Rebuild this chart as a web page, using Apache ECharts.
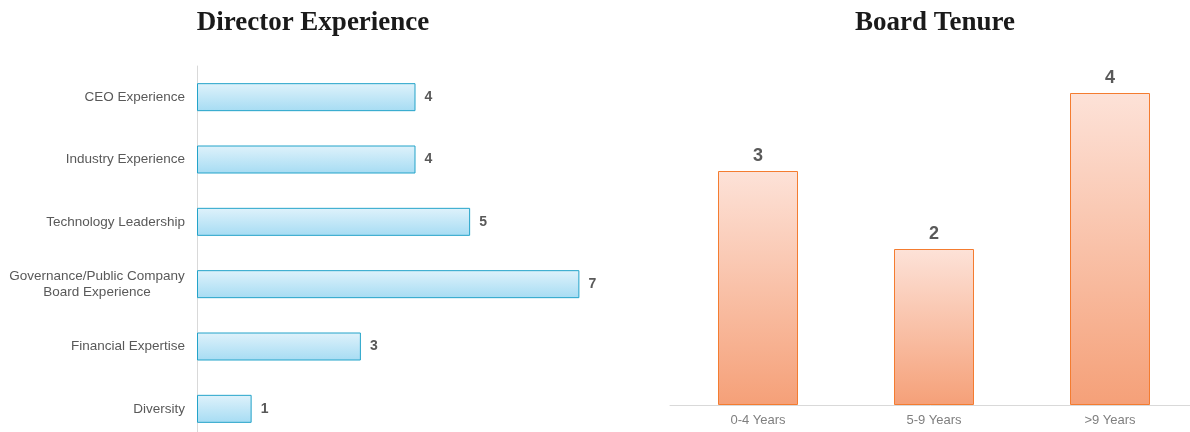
<!DOCTYPE html>
<html>
<head>
<meta charset="utf-8">
<script src="https://cdn.jsdelivr.net/npm/echarts@6/dist/echarts.min.js"></script>
<style>
  html, body { margin: 0; padding: 0; background: #fff; }
  #main { width: 1190px; height: 432px; }
</style>
</head>
<body>
<div id="main"></div>
<script>
// director experience (top to bottom)
var expCategories = ['CEO Experience', 'Industry Experience', 'Technology Leadership',
  'Governance/Public Company\nBoard Experience', 'Financial Expertise', 'Diversity'];
var expValues = [4, 4, 5, 7, 3, 1];

// board tenure
var tenureCategories = ['0-4 Years', '5-9 Years', '>9 Years'];
var tenureValues = [3, 2, 4];

var chart = echarts.init(document.getElementById('main'));

var blueFill = new echarts.graphic.LinearGradient(0, 0, 0, 1, [
  { offset: 0, color: '#dff2fb' },
  { offset: 1, color: '#a6dcf3' }
]);
var orangeFill = new echarts.graphic.LinearGradient(0, 0, 0, 1, [
  { offset: 0, color: '#fde2d8' },
  { offset: 1, color: '#f5a078' }
]);

// categories on the left axis, the two-line one kept centred like the original
var expAxisData = expCategories.map(function (c) {
  if (c.indexOf('\n') >= 0) {
    return { value: c, textStyle: { align: 'center', padding: [0, 176, 0, 0] } };
  }
  return c;
});

var titleStyle = {
  fontFamily: 'Liberation Serif', fontStyle: 'normal', fontWeight: 'bold',
  fontSize: 27, color: '#1a1a1a'
};

chart.setOption({
  animation: false,
  title: [
    { text: 'Director Experience', left: 308, top: 5, textAlign: 'center', textStyle: titleStyle },
    { text: 'Board Tenure', left: 930, top: 5, textAlign: 'center', textStyle: titleStyle }
  ],
  grid: [
    { left: 197, top: 66, width: 437, height: 374, outerBoundsMode: 'none', containLabel: false },
    { left: 670, top: 15, width: 528, height: 390, outerBoundsMode: 'none', containLabel: false }
  ],
  xAxis: [
    { gridIndex: 0, type: 'value', min: 0, max: 8, show: false },
    {
      gridIndex: 1, type: 'category', data: tenureCategories,
      axisLine: { lineStyle: { color: '#d9d9d9' } },
      axisTick: { show: false },
      axisLabel: { color: '#7f7f7f', fontSize: 13, fontFamily: 'Liberation Sans', margin: 9 }
    }
  ],
  yAxis: [
    {
      gridIndex: 0, type: 'category', data: expAxisData, inverse: true,
      axisLine: { lineStyle: { color: '#d9d9d9' } },
      axisTick: { show: false },
      axisLabel: { color: '#595959', fontSize: 13.5, fontFamily: 'Liberation Sans', margin: 12, lineHeight: 16 }
    },
    { gridIndex: 1, type: 'value', min: 0, max: 5, show: false }
  ],
  series: [
    {
      type: 'bar', xAxisIndex: 0, yAxisIndex: 0, data: expValues, barWidth: 28,
      itemStyle: { color: blueFill, borderColor: '#23a3c9', borderWidth: 1 },
      label: {
        show: true, position: 'right', distance: 9,
        color: '#595959', fontWeight: 'bold', fontSize: 14, fontFamily: 'Liberation Sans'
      }
    },
    {
      type: 'bar', xAxisIndex: 1, yAxisIndex: 1, data: tenureValues, barWidth: 80,
      itemStyle: { color: orangeFill, borderColor: '#f47c30', borderWidth: 1 },
      label: {
        show: true, position: 'top', distance: 6,
        color: '#595959', fontWeight: 'bold', fontSize: 18, fontFamily: 'Liberation Sans'
      }
    }
  ]
});
</script>
</body>
</html>
